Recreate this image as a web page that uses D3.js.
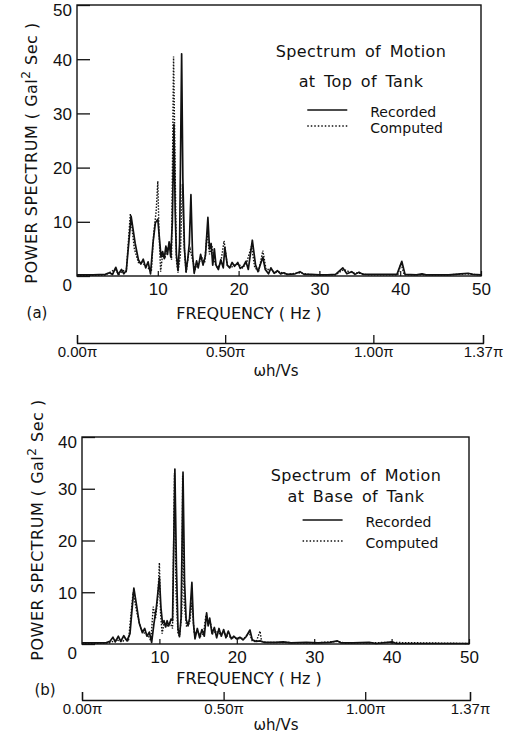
<!DOCTYPE html>
<html>
<head>
<meta charset="utf-8">
<script src="https://cdn.jsdelivr.net/npm/d3@7"></script>
<style>
  body { margin: 0; background: #fff; }
  svg { font-family: "DejaVu Sans", sans-serif; }
</style>
</head>
<body>
<svg id="chart" width="511" height="734"></svg>
<script>
// tick labels
const yTicksTop = [0, 10, 20, 30, 40, 50];
const yTicksBot = [0, 10, 20, 30, 40];
const xTicks = [10, 20, 30, 40, 50];
const piTicks = [0, 0.5, 1.0, 1.37];
const piLabels = ["0.00\u03c0", "0.50\u03c0", "1.00\u03c0", "1.37\u03c0"];

// (a) top of tank: [frequency Hz, power]
const topRecorded = [
  [0, 0.2], [2, 0.2], [3.5, 0.3], [4.0, 0.6], [4.4, 0.3], [4.8, 1.6], [5.1, 0.3], [5.5, 1.2],
  [5.8, 0.4], [6.1, 1.0], [6.7, 11.0], [7.2, 6], [7.6, 3], [7.9, 2.2], [8.2, 3.1], [8.5, 1.5],
  [8.8, 2.6], [9.1, 0.4], [9.4, 6], [9.7, 9.8], [10.0, 10.5], [10.2, 7], [10.4, 3.5], [10.6, 4.5],
  [10.8, 3.2], [11.0, 5.5], [11.2, 4.0], [11.4, 6.3], [11.6, 3.5], [11.8, 10], [12.0, 28],
  [12.15, 12], [12.3, 4], [12.5, 1.0], [12.7, 6], [12.95, 41], [13.1, 18], [13.3, 5], [13.5, 0.8],
  [13.7, 3], [13.9, 6], [14.1, 15], [14.3, 4], [14.5, 0.5], [14.8, 2.8], [15.0, 1.5], [15.3, 4],
  [15.6, 2], [15.9, 3.8], [16.2, 10.8], [16.4, 5], [16.6, 6], [16.8, 2], [17.0, 5], [17.2, 2],
  [17.5, 1.2], [17.8, 3], [18.1, 1.5], [18.3, 5.3], [18.6, 2], [18.9, 1.5], [19.2, 2.5],
  [19.5, 1.8], [19.9, 2.5], [20.2, 1.4], [20.6, 1.8], [20.9, 2.7], [21.2, 1.2], [21.7, 6.6],
  [22.1, 2], [22.4, 0.8], [23.0, 3.5], [23.3, 1.2], [23.7, 0.4], [24.0, 1.5], [24.4, 0.5],
  [24.8, 1.0], [25.2, 0.4], [25.6, 0.6], [26, 0.3], [27, 0.4], [27.6, 0.8], [28.1, 0.3], [29, 0.3],
  [30, 0.2], [31, 0.2], [32, 0.3], [32.9, 1.5], [33.4, 0.4], [34, 0.8], [34.4, 0.3], [34.9, 0.7],
  [35.4, 0.3], [37, 0.3], [39.6, 0.3], [40.2, 2.7], [40.6, 0.3], [42, 0.2], [42.7, 0.4],
  [43.2, 0.2], [46, 0.2], [47.5, 0.4], [48.4, 0.5], [49, 0.3], [50, 0.2]
];
const topComputed = [
  [0, 0.1], [3.5, 0.2], [4.7, 1.2], [5.2, 0.3], [5.7, 1.0], [6.1, 0.8], [6.6, 11.5], [7.1, 5],
  [7.6, 2.5], [8.0, 2.5], [8.4, 2.0], [8.8, 1.5], [9.2, 0.8], [9.5, 8], [9.8, 12], [10.0, 17.5],
  [10.15, 8], [10.35, 0.8], [10.6, 4], [10.9, 3.5], [11.2, 5], [11.5, 6], [11.7, 3], [11.95, 40.5],
  [12.1, 25], [12.3, 3], [12.5, 0.6], [12.8, 4], [13.05, 17], [13.25, 6], [13.5, 0.5], [13.8, 4],
  [14.0, 5], [14.3, 3], [14.6, 1.2], [15.0, 2], [15.4, 3.5], [15.8, 2.5], [16.1, 8], [16.4, 4],
  [16.7, 5.5], [17.0, 2.5], [17.4, 1.5], [17.8, 2.5], [18.2, 6.5], [18.6, 2], [19.0, 1.5],
  [19.5, 2], [20.0, 2.2], [20.5, 1.5], [21.0, 2.5], [21.6, 5.5], [22.0, 1.5], [22.5, 1],
  [23.0, 4.7], [23.4, 1.2], [24, 1.2], [24.5, 0.6], [25, 0.8], [26, 0.3], [27.6, 0.6], [29, 0.2],
  [32, 0.2], [33, 1.2], [34, 0.6], [35, 0.5], [36, 0.2], [39.7, 0.2], [40.1, 2.3], [40.5, 0.2],
  [46, 0.2], [48, 0.4], [50, 0.2]
];

// (b) base of tank
const baseRecorded = [
  [0, 0.2], [3, 0.2], [3.6, 0.5], [4.0, 1.3], [4.3, 0.4], [4.7, 1.5], [5.0, 0.5], [5.4, 1.6],
  [5.8, 0.6], [6.2, 2], [6.7, 10.8], [7.1, 7], [7.4, 4], [7.8, 2.2], [8.1, 3], [8.4, 1.5],
  [8.7, 2.3], [9.0, 0.3], [9.3, 4], [9.6, 7], [10.0, 12.8], [10.2, 7], [10.4, 4], [10.6, 4.5],
  [10.8, 3.3], [11.0, 4.5], [11.2, 3.5], [11.5, 4.8], [11.7, 4.5], [12.0, 33.8], [12.2, 15],
  [12.4, 3], [12.6, 1.4], [12.8, 5], [13.05, 33.2], [13.25, 12], [13.45, 4.8], [13.7, 3.5],
  [13.9, 5], [14.2, 11.9], [14.4, 4], [14.6, 1.0], [14.9, 3], [15.2, 1.2], [15.5, 2.8],
  [15.8, 1.5], [16.1, 6], [16.3, 3.5], [16.5, 5], [16.8, 2], [17.1, 3.2], [17.4, 1.2], [17.7, 3],
  [18.0, 1.5], [18.3, 2.8], [18.6, 1.2], [18.9, 2.5], [19.3, 1.0], [19.6, 1.5], [20.0, 1.0],
  [20.4, 1.3], [20.8, 0.8], [21.2, 1.4], [21.7, 2.7], [22.0, 0.8], [22.5, 0.5], [23, 0.6],
  [23.6, 0.3], [25, 0.3], [26, 0.4], [27, 0.2], [29, 0.3], [30.5, 0.2], [32, 0.3], [33, 0.6],
  [33.5, 0.2], [35, 0.2], [37.1, 0.3], [38, 0.1], [40.1, 0.4], [40.6, 0.1], [45, 0.1], [50, 0.1]
];
const baseComputed = [
  [0, 0.1], [3.5, 0.2], [4.5, 0.8], [5.2, 0.4], [5.6, 1.0], [6.0, 0.5], [6.6, 10], [7.1, 6],
  [7.6, 3], [8.1, 2], [8.6, 1.5], [8.9, 0.6], [9.2, 7.2], [9.5, 5], [9.8, 9], [10.0, 15.7],
  [10.15, 6], [10.35, 2], [10.6, 4], [11.0, 3.5], [11.4, 4], [11.7, 3], [11.95, 33], [12.15, 10],
  [12.4, 2], [12.6, 1.5], [12.9, 6], [13.0, 32.5], [13.2, 8], [13.5, 3.5], [13.9, 4], [14.2, 8],
  [14.5, 2], [14.9, 2.5], [15.3, 1.5], [15.7, 2], [16.0, 5.5], [16.3, 4.2], [16.6, 4], [16.9, 2],
  [17.3, 2.5], [17.8, 2], [18.3, 2.2], [18.8, 1.5], [19.5, 1.2], [20.2, 1], [21, 1.2], [21.6, 2.2],
  [22.0, 0.6], [22.5, 0.4], [23.0, 2.5], [23.2, 0.5], [24, 0.3], [26, 0.3], [30, 0.2], [33, 0.5],
  [34, 0.2], [40, 0.3], [50, 0.1]
];

const svg = d3.select("#chart");

drawPanel({
  left: 77, right: 481, top: 5, bottom: 276, yMax: 50, yTicks: yTicksTop,
  recorded: topRecorded, computed: topComputed,
  titleX: 31, titleY: 153, title: ["Spectrum of Motion", "at  Top  of  Tank"],
  titleTextX: 361, titleTextY: [51, 81], legendY: [112, 128],
  freqLabelY: 313, tag: "(a)", tagX: 37, tagY: 313,
  piY: 343, piRange: [77, 483], omegaY: 371
});

drawPanel({
  left: 82, right: 469, top: 437, bottom: 644, yMax: 40, yTicks: yTicksBot,
  recorded: baseRecorded, computed: baseComputed,
  titleX: 37, titleY: 530, title: ["Spectrum of Motion", "at  Base  of  Tank"],
  titleTextX: 356, titleTextY: [475, 496], legendY: [522, 543],
  freqLabelY: 678, tag: "(b)", tagX: 45, tagY: 690,
  piY: 700, piRange: [82, 470], omegaY: 725
});

function drawPanel(c) {
  const x = d3.scaleLinear().domain([0, 50]).range([c.left, c.right]);
  const y = d3.scaleLinear().domain([0, c.yMax]).range([c.bottom, c.top]);
  const g = svg.append("g");

  // frame
  g.append("rect")
    .attr("x", c.left).attr("y", c.top)
    .attr("width", c.right - c.left).attr("height", c.bottom - c.top)
    .attr("fill", "none").attr("stroke", "#111").attr("stroke-width", 1.4);

  // y axis, ticks pointing inward
  const yAxis = g.append("g")
    .attr("transform", `translate(${c.left},0)`)
    .call(d3.axisLeft(y).tickValues(c.yTicks).tickSize(-13).tickPadding(4));
  yAxis.select(".domain").remove();
  yAxis.selectAll("line").attr("stroke", "#111").attr("stroke-width", 1.3);
  yAxis.selectAll("text")
    .attr("font-size", 17).attr("fill", "#111").attr("x", -5)
    .attr("dy", (d) => (d === 0 ? "0.85em" : d === c.yMax ? "0.6em" : "0.35em"));

  // x axis
  const xAxis = g.append("g")
    .attr("transform", `translate(0,${c.bottom})`)
    .call(d3.axisBottom(x).tickValues(xTicks).tickSize(-5).tickPadding(7));
  xAxis.select(".domain").remove();
  xAxis.selectAll("line").attr("stroke", "#111").attr("stroke-width", 1.2);
  xAxis.selectAll("text").attr("font-size", 17).attr("fill", "#111");

  const line = d3.line().x((d) => x(d[0])).y((d) => y(d[1]));

  g.append("path").datum(c.computed)
    .attr("d", line).attr("fill", "none").attr("stroke", "#111")
    .attr("stroke-width", 1.4).attr("stroke-dasharray", "1.5,1.5");
  g.append("path").datum(c.recorded)
    .attr("d", line).attr("fill", "none").attr("stroke", "#111")
    .attr("stroke-width", 1.7).attr("stroke-linejoin", "round");

  // y title
  const yt = g.append("text")
    .attr("transform", `translate(${c.titleX},${c.titleY}) rotate(-90)`)
    .attr("text-anchor", "middle").attr("dy", "0.35em")
    .attr("font-size", 16).attr("letter-spacing", 0.5).attr("fill", "#111");
  yt.append("tspan").text("POWER  SPECTRUM ( Gal");
  yt.append("tspan").attr("baseline-shift", "super").attr("font-size", 12).text("2");
  yt.append("tspan").text("  Sec )");

  // legend
  c.title.forEach((t, i) => {
    g.append("text")
      .attr("x", c.titleTextX).attr("y", c.titleTextY[i]).attr("dy", "0.35em")
      .attr("text-anchor", "middle").attr("font-size", 16).attr("word-spacing", 3)
      .attr("letter-spacing", 0.4).attr("fill", "#111")
      .text(t);
  });
  const lx = c.left + (c.right - c.left) * 0.57;
  ["Recorded", "Computed"].forEach((name, i) => {
    g.append("line")
      .attr("x1", lx).attr("x2", lx + 40)
      .attr("y1", c.legendY[i] - 2).attr("y2", c.legendY[i] - 2)
      .attr("stroke", "#111").attr("stroke-width", i === 0 ? 1.5 : 1.3)
      .attr("stroke-dasharray", i === 0 ? null : "1.5,2");
    g.append("text")
      .attr("x", lx + 63).attr("y", c.legendY[i]).attr("dy", "0.35em")
      .attr("font-size", 14).attr("fill", "#111").text(name);
  });

  // x title and tag
  g.append("text")
    .attr("x", 249).attr("y", c.freqLabelY).attr("dy", "0.35em")
    .attr("text-anchor", "middle").attr("font-size", 16).attr("fill", "#111")
    .text("FREQUENCY ( Hz )");
  g.append("text")
    .attr("x", c.tagX).attr("y", c.tagY).attr("dy", "0.35em")
    .attr("text-anchor", "middle").attr("font-size", 15).attr("fill", "#111")
    .text(c.tag);

  // secondary omega-h/Vs axis
  const p = d3.scaleLinear().domain([0, 1.37]).range(c.piRange);
  const pAxis = g.append("g")
    .attr("transform", `translate(0,${c.piY})`)
    .call(d3.axisBottom(p).tickValues(piTicks).tickSize(-8).tickPadding(3)
      .tickFormat((d, i) => piLabels[i]));
  pAxis.selectAll("path, line").attr("stroke", "#111").attr("stroke-width", 1.3);
  pAxis.selectAll("text").attr("font-size", 15).attr("fill", "#111");
  g.append("text")
    .attr("x", 276).attr("y", c.omegaY).attr("dy", "0.35em")
    .attr("text-anchor", "middle").attr("font-size", 15).attr("fill", "#111")
    .text("\u03c9h/Vs");
}
</script>
</body>
</html>
